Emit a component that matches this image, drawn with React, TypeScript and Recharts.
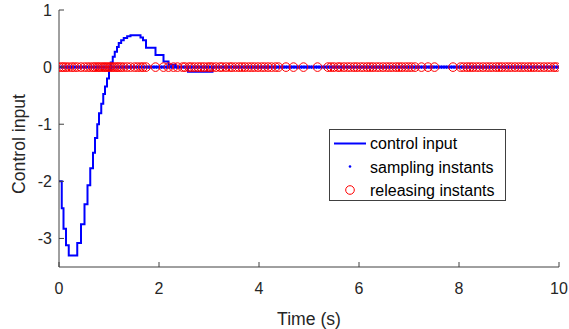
import * as React from "react";
import {
  ComposedChart,
  Line,
  Scatter,
  XAxis,
  YAxis,
  Legend,
  Label,
} from "recharts";

// control input (step changes)
const controlTimes = [
  0, 0.055, 0.09, 0.14, 0.195, 0.365, 0.44, 0.51, 0.57, 0.625, 0.68, 0.72, 0.765, 0.8, 0.845,
  0.885, 0.92, 0.96, 1.0, 1.035, 1.075, 1.115, 1.16, 1.195, 1.243, 1.295, 1.363, 1.43, 1.63,
  1.68, 1.74, 1.93, 2.09, 2.19, 2.33, 2.58, 3.07, 10,
];
const controlValues = [
  -2.0, -2.47, -2.83, -3.12, -3.3, -3.08, -2.75, -2.4, -2.07, -1.77, -1.5, -1.24, -1.0, -0.81,
  -0.64, -0.47, -0.34, -0.2, -0.05, 0.08, 0.18, 0.27, 0.35, 0.42, 0.47, 0.51, 0.54, 0.56, 0.52,
  0.47, 0.34, 0.21, 0.1, 0.04, 0, -0.08, 0, 0,
];

// periodic sampling instants
const sampleTimes = [
  0, 0.05, 0.1, 0.15, 0.2, 0.25, 0.3, 0.35, 0.4, 0.45,
  0.5, 0.55, 0.6, 0.65, 0.7, 0.75, 0.8, 0.85, 0.9, 0.95,
  1.0, 1.05, 1.1, 1.15, 1.2, 1.25, 1.3, 1.35, 1.4, 1.45,
  1.5, 1.55, 1.6, 1.65, 1.7, 1.75, 1.8, 1.85, 1.9, 1.95,
  2.0, 2.05, 2.1, 2.15, 2.2, 2.25, 2.3, 2.35, 2.4, 2.45,
  2.5, 2.55, 2.6, 2.65, 2.7, 2.75, 2.8, 2.85, 2.9, 2.95,
  3.0, 3.05, 3.1, 3.15, 3.2, 3.25, 3.3, 3.35, 3.4, 3.45,
  3.5, 3.55, 3.6, 3.65, 3.7, 3.75, 3.8, 3.85, 3.9, 3.95,
  4.0, 4.05, 4.1, 4.15, 4.2, 4.25, 4.3, 4.35, 4.4, 4.45,
  4.5, 4.55, 4.6, 4.65, 4.7, 4.75, 4.8, 4.85, 4.9, 4.95,
  5.0, 5.05, 5.1, 5.15, 5.2, 5.25, 5.3, 5.35, 5.4, 5.45,
  5.5, 5.55, 5.6, 5.65, 5.7, 5.75, 5.8, 5.85, 5.9, 5.95,
  6.0, 6.05, 6.1, 6.15, 6.2, 6.25, 6.3, 6.35, 6.4, 6.45,
  6.5, 6.55, 6.6, 6.65, 6.7, 6.75, 6.8, 6.85, 6.9, 6.95,
  7.0, 7.05, 7.1, 7.15, 7.2, 7.25, 7.3, 7.35, 7.4, 7.45,
  7.5, 7.55, 7.6, 7.65, 7.7, 7.75, 7.8, 7.85, 7.9, 7.95,
  8.0, 8.05, 8.1, 8.15, 8.2, 8.25, 8.3, 8.35, 8.4, 8.45,
  8.5, 8.55, 8.6, 8.65, 8.7, 8.75, 8.8, 8.85, 8.9, 8.95,
  9.0, 9.05, 9.1, 9.15, 9.2, 9.25, 9.3, 9.35, 9.4, 9.45,
  9.5, 9.55, 9.6, 9.65, 9.7, 9.75, 9.8, 9.85, 9.9, 9.95,
  10.0,
];

// event-triggered releasing instants (estimated)
const releaseTimes = [
  0, 0.055, 0.09, 0.14, 0.195, 0.26, 0.31, 0.365, 0.44, 0.51, 0.57, 0.625, 0.68, 0.72, 0.765,
  0.8, 0.845, 0.885, 0.92, 0.96, 1.0, 1.035, 1.075, 1.115, 1.16, 1.195, 1.243, 1.295, 1.363,
  1.43, 1.51, 1.57, 1.63, 1.68, 1.74,
  1.93, 2.09, 2.19, 2.29, 2.37,
  2.47, 2.52, 2.6, 2.65, 2.71, 2.78, 2.84, 2.9, 2.97, 3.02, 3.07, 3.14, 3.22, 3.27, 3.34, 3.41,
  3.46, 3.53, 3.6, 3.66, 3.72, 3.79, 3.85, 3.91, 3.98, 4.05, 4.11, 4.18, 4.25, 4.33,
  4.39, 4.54, 4.69, 4.89, 5.17,
  5.38, 5.44, 5.5, 5.58, 5.63, 5.7, 5.77, 5.83, 5.9, 5.96, 6.03, 6.09, 6.16, 6.22, 6.28, 6.35,
  6.41, 6.48, 6.55, 6.61, 6.67, 6.74, 6.8, 6.86, 6.93, 6.99, 7.05, 7.12,
  7.25, 7.38, 7.51, 7.88,
  8.03, 8.09, 8.16, 8.22, 8.28, 8.35, 8.41, 8.48, 8.55, 8.61, 8.67, 8.74, 8.8, 8.86, 8.93,
  8.99, 9.05, 9.12, 9.19, 9.25, 9.31, 9.38, 9.44, 9.5, 9.57, 9.63, 9.7, 9.77, 9.83, 9.9, 9.95,
];

const X_TICKS = [0, 2, 4, 6, 8, 10];
const Y_TICKS = [-3, -2, -1, 0, 1];

const FONT = '"Liberation Sans", Arial, Helvetica, sans-serif';
const AXIS = "#404040";
const TEXT = "#262626";

const controlData = controlTimes.map((t, i) => ({ t, v: controlValues[i] }));
const sampleData = sampleTimes.map((t) => ({ t, y: 0 }));
const releaseData = releaseTimes.map((t) => ({ t, y: 0 }));

const BottomTick = (p: any) => (
  <g>
    <line x1={p.x} x2={p.x} y1={p.y} y2={p.y - 5} stroke={AXIS} />
    <text x={p.x} y={p.y + 27} textAnchor="middle" fontSize={16} fontFamily={FONT} fill={TEXT}>
      {p.payload.value}
    </text>
  </g>
);
const TopTick = (p: any) => (
  <line x1={p.x} x2={p.x} y1={p.y} y2={p.y + 5} stroke={AXIS} />
);
const LeftTick = (p: any) => (
  <g>
    <line x1={p.x} x2={p.x + 5} y1={p.y} y2={p.y} stroke={AXIS} />
    <text
      x={p.x - 7}
      y={p.y + 5.7}
      textAnchor="end"
      fontSize={16}
      fontFamily={FONT}
      fill={TEXT}
    >
      {p.payload.value}
    </text>
  </g>
);
const RightTick = (p: any) => (
  <line x1={p.x} x2={p.x - 5} y1={p.y} y2={p.y} stroke={AXIS} />
);

const YTitle = () => (
  <text
    transform="translate(25,144) rotate(-90)"
    textAnchor="middle"
    fontSize={17.6}
    fontFamily={FONT}
    fill={TEXT}
  >
    Control input
  </text>
);

const Dot = (p: any) => <circle cx={p.cx} cy={p.cy} r={1.8} fill="#0000ff" />;
const Ring = (p: any) => (
  <circle cx={p.cx} cy={p.cy} r={4.3} fill="none" stroke="#ff0000" strokeWidth={1} />
);

const LegendBox = () => (
  <svg width={177} height={72} style={{ display: "block" }}>
    <rect x={0.5} y={0.5} width={176} height={71} fill="#fff" stroke={AXIS} />
    <line x1={5} x2={37} y1={14.5} y2={14.5} stroke="#0000ff" strokeWidth={2} />
    <circle cx={21} cy={37.5} r={1.3} fill="#0000ff" />
    <circle cx={21} cy={61} r={4.3} fill="none" stroke="#ff0000" strokeWidth={1} />
    <g fontSize={16} fontFamily={FONT} fill="#000">
      <text x={41} y={20.3}>control input</text>
      <text x={41} y={43.5}>sampling instants</text>
      <text x={41} y={67}>releasing instants</text>
    </g>
  </svg>
);

export default function App() {
  return (
    <div style={{ position: "absolute", left: 0, top: 0, width: 569, height: 329, background: "#fff" }}>
      <ComposedChart width={569} height={329} margin={{ top: 10, right: 10, bottom: 0, left: 0 }}>
        <XAxis
          dataKey="t"
          type="number"
          domain={[0, 10]}
          ticks={X_TICKS}
          allowDataOverflow
          height={62}
          tickSize={0}
          tickMargin={0}
          tickLine={false}
          axisLine={{ stroke: AXIS }}
          tick={<BottomTick />}
        >
          <Label
            value="Time (s)"
            position="insideBottom"
            offset={4}
            style={{ fontSize: 17.6, fontFamily: FONT, fill: TEXT }}
          />
        </XAxis>
        <XAxis
          xAxisId="top"
          orientation="top"
          dataKey="t"
          type="number"
          domain={[0, 10]}
          ticks={X_TICKS}
          allowDataOverflow
          height={0}
          tickSize={0}
          tickMargin={0}
          tickLine={false}
          axisLine={{ stroke: AXIS }}
          tick={<TopTick />}
        />
        <YAxis
          type="number"
          domain={[-3.5, 1]}
          ticks={Y_TICKS}
          allowDataOverflow
          width={59}
          tickSize={0}
          tickMargin={0}
          tickLine={false}
          axisLine={{ stroke: AXIS }}
          tick={<LeftTick />}
        >
          <Label content={() => <YTitle />} />
        </YAxis>
        <YAxis
          yAxisId="right"
          orientation="right"
          type="number"
          domain={[-3.5, 1]}
          ticks={Y_TICKS}
          allowDataOverflow
          width={0}
          tickSize={0}
          tickMargin={0}
          tickLine={false}
          axisLine={{ stroke: AXIS }}
          tick={<RightTick />}
        />
        <Line
          data={controlData}
          dataKey="v"
          type="stepAfter"
          stroke="#0000ff"
          strokeWidth={2}
          dot={false}
          activeDot={false}
          isAnimationActive={false}
        />
        <Scatter data={sampleData} dataKey="y" shape={<Dot />} isAnimationActive={false} />
        <Scatter data={releaseData} dataKey="y" shape={<Ring />} isAnimationActive={false} />
        <Legend
          layout="horizontal"
          verticalAlign="middle"
          align="center"
          content={() => <LegendBox />}
          wrapperStyle={{ left: 329, top: 129, width: 177, height: 72 }}
        />
      </ComposedChart>
    </div>
  );
}
